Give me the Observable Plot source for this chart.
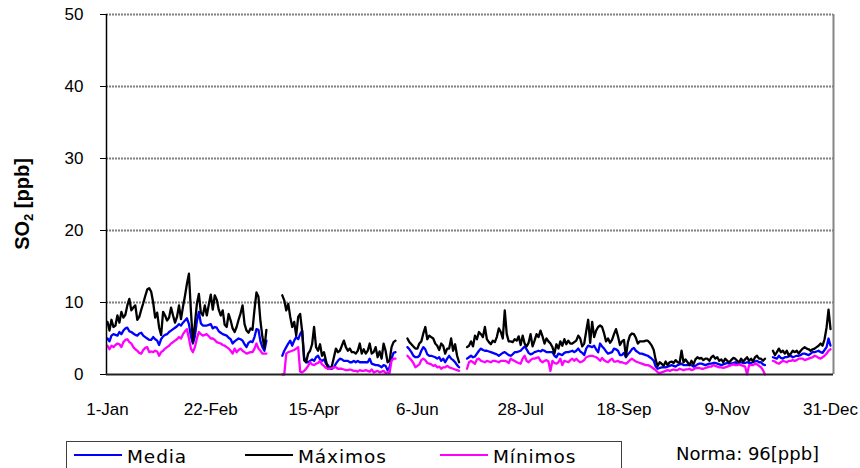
<!DOCTYPE html>
<html>
<head>
<meta charset="utf-8">
<script src="https://cdn.jsdelivr.net/npm/d3@7"></script>
<script src="https://cdn.jsdelivr.net/npm/@observablehq/plot@0.6"></script>
<style>
  html, body { margin: 0; padding: 0; background: #fff; }
  #wrap { position: relative; width: 860px; height: 468px; overflow: hidden; }
  #chart svg { display: block; }
  #legend { position: absolute; left: 0; top: 432px; }
</style>
</head>
<body>
<div id="wrap">
  <div id="chart"></div>
  <svg id="legend" width="860" height="36"></svg>
</div>
<script>
// Daily SO2 values [ppb], one entry per day from 1 January; null = no data.
const maximos = [
  7.3, 6.1, 7.6, 6.6, 6.8, 8.2, 7.2, 8.7, 7.9, 8.3,
  9.6, 10.5, 8.9, 9.3, 9.6, 7.6, 8.0, 9.0, 9.9, 10.9,
  11.8, 12.0, 11.5, 10.0, 7.9, 8.6, 6.5, 5.5, 8.7, 8.2,
  7.5, 7.9, 9.3, 8.2, 7.2, 8.0, 9.6, 7.7, 9.4, 10.9,
  12.6, 14.0, 8.8, 4.5, 7.0, 9.8, 11.2, 8.6, 8.2, 9.6,
  8.2, 9.7, 11.1, 9.0, 11.0, 10.4, 9.0, 8.2, 8.9, 6.9,
  6.6, 8.4, 7.5, 6.4, 5.9, 6.6, 7.6, 8.5, 9.6, 7.0,
  6.1, 5.8, 6.4, 6.2, 9.0, 11.4, 10.8, 7.4, 5.2, 3.7,
  6.2,
  null, null, null, null, null, null, null,
  11.0, 10.3, 8.9, 9.8, 8.0, 6.6, 7.3, 5.4, 8.0, 8.4,
  6.0, 2.0, 1.7, 2.9, 3.3, 4.2, 6.6, 3.8, 3.3, 4.2,
  2.6, 3.1, 1.9, 0.8, 0.8, 1.2, 2.4, 3.6, 3.1, 3.3,
  4.0, 4.7, 3.8, 3.3, 3.6, 3.1, 3.1, 2.9, 3.3, 4.3,
  2.9, 3.5, 2.9, 3.3, 4.3, 2.9, 3.1, 3.8, 2.4, 3.2,
  2.2, 4.3, 3.3, 1.7, 1.9, 3.8, 4.5, 4.7,
  null, null, null, null, null,
  5.0, 4.5, 4.2, 3.9, 3.6, 3.6, 4.3, 4.6, 5.7, 6.6,
  4.9, 5.4, 5.2, 5.0, 4.3, 4.0, 3.4, 4.3, 4.0, 2.9,
  3.6, 3.6, 5.0, 3.3, 4.2, 2.6, 1.7,
  null, null, null,
  3.8, 4.0, 4.6, 3.9, 5.4, 4.9, 5.9, 5.6, 5.2, 6.6,
  4.9, 4.5, 4.2, 4.7, 4.5, 5.2, 6.4, 5.9, 5.0, 8.9,
  5.6, 4.6, 4.6, 4.5, 4.9, 4.7, 5.3, 4.1, 5.4, 4.3,
  3.9, 4.4, 5.6, 3.9, 4.7, 5.6, 5.2, 6.1, 5.3, 4.3,
  5.0, 4.6, 4.3, 3.8, 2.9, 4.2, 3.6, 4.6, 4.0, 4.9,
  4.2, 4.7, 4.3, 4.3, 4.5, 4.7, 5.4, 5.0, 3.9, 4.3,
  6.0, 7.6, 4.4, 7.3, 5.2, 6.1, 6.6, 6.8, 6.6, 5.7,
  4.6, 5.0, 4.4, 4.8, 5.6, 6.3, 5.3, 4.1,
  4.6, 4.8, 2.5, 4.5, 5.4, 5.7, 5.6, 5.1, 4.3, 4.6,
  4.6, 4.6, 4.7, 4.7, 4.4, 4.0, 3.4, 2.0, 1.2, 1.7,
  1.5, 1.2, 1.8, 1.3, 1.7, 1.8, 1.6, 2.0, 1.7, 1.6,
  3.3, 1.7, 2.1, 1.7, 1.3, 1.9, 1.4, 2.1, 2.4, 2.2,
  2.3, 2.0, 2.2, 2.2, 1.9, 2.4, 2.6, 2.2, 2.4, 1.9,
  2.1, 1.7, 2.2, 1.9, 1.7, 2.0, 2.3, 2.2, 1.9, 1.7,
  2.2, 1.8, 2.1, 2.4, 1.9, 2.2, 1.8, 2.4, 2.6, 2.2,
  2.2, 1.9, 2.2,
  null, null, null,
  3.3, 2.7, 3.1, 3.6, 3.1, 3.3, 2.9, 3.3, 2.6, 2.9,
  3.3, 3.1, 3.3, 2.9, 3.3, 3.6, 3.8, 3.6, 3.5, 3.3,
  3.5, 3.6, 3.8, 4.0, 4.3, 4.0, 4.9, 6.5, 9.0, 6.3
];

const media = [
  5.0, 4.6, 5.4, 5.6, 5.5, 5.4, 5.9, 5.6, 6.1, 6.4,
  6.5, 6.0, 5.9, 5.7, 5.5, 5.4, 5.7, 5.8, 5.4, 5.2,
  5.0, 4.8, 4.8, 5.2, 4.9, 4.7, 4.1, 4.9, 5.3, 5.5,
  5.6, 5.9, 6.1, 6.3, 6.5, 6.7, 7.0, 6.8, 7.2, 7.5,
  7.8, 7.0, 5.3, 4.3, 5.3, 7.4, 8.7, 7.1, 6.8, 6.8,
  6.8, 6.9, 7.0, 6.4, 6.6, 6.5, 6.0, 5.8, 5.6, 5.5,
  5.4, 5.1, 4.9, 4.3, 4.6, 4.8, 5.0, 4.9, 4.7, 4.2,
  3.8, 4.4, 4.6, 4.5, 5.2, 6.3, 6.2, 4.6, 3.8, 3.3,
  4.7,
  null, null, null, null, null, null, null,
  2.6, 3.3, 3.8, 4.3, 4.7, 4.0, 4.7, 5.2, 4.9, 5.6,
  6.1, 2.4, 1.7, 1.7, 1.9, 2.1, 1.9, 2.4, 2.6, 2.1,
  1.9, 2.1, 1.5, 1.3, 0.8, 0.8, 1.0, 1.5, 1.9, 2.2,
  2.1, 1.9, 1.9, 1.9, 1.7, 1.7, 1.9, 1.7, 1.9, 1.7,
  1.7, 1.7, 1.7, 1.7, 2.2, 1.5, 1.4, 1.3, 1.3, 1.2,
  1.0, 1.3, 1.2, 0.6, 1.0, 2.2, 3.0, 3.1,
  null, null, null, null, null,
  3.8, 3.5, 3.1, 2.6, 2.4, 2.4, 2.6, 3.3, 3.8, 3.5,
  2.8, 2.6, 2.6, 2.5, 2.4, 2.2, 2.4, 1.9, 2.2, 1.7,
  2.2, 2.6, 2.2, 2.0, 1.7, 1.3, 1.0,
  null, null, null,
  2.2, 2.4, 2.6, 2.4, 2.5, 2.9, 3.3, 3.6, 3.4, 3.3,
  3.3, 3.2, 3.1, 3.0, 2.9, 2.8, 2.6, 2.8, 3.0, 3.1,
  2.9, 2.7, 2.6, 2.8, 3.1, 3.1, 3.2, 3.3, 3.6, 3.9,
  3.5, 3.0, 2.8, 2.9, 3.1, 3.2, 3.3, 3.2, 3.4, 3.3,
  3.1, 3.1, 3.1, 3.1, 2.6, 2.4, 2.9, 2.8, 2.7, 3.0,
  3.1, 3.1, 3.2, 3.3, 3.1, 3.3, 3.6, 3.2, 3.0, 2.7,
  3.6, 4.0, 3.9, 3.8, 4.0, 3.5, 3.1, 4.3, 3.9, 3.6,
  3.2, 2.9, 3.0, 3.1, 3.6, 3.5, 3.3, 2.7,
  2.7, 3.0, 2.4, 2.8, 3.1, 3.5, 3.7, 3.3, 3.1, 2.9,
  2.9, 2.8, 2.7, 2.6, 2.4, 2.2, 1.9, 1.1, 0.8, 0.9,
  1.0, 1.0, 1.0, 1.1, 1.2, 1.3, 1.2, 1.1, 1.3, 1.4,
  1.5, 1.3, 1.3, 1.3, 1.3, 1.3, 1.1, 1.2, 1.4, 1.5,
  1.5, 1.4, 1.3, 1.4, 1.5, 1.5, 1.6, 1.6, 1.5, 1.4,
  1.3, 1.4, 1.5, 1.6, 1.5, 1.5, 1.6, 1.7, 1.5, 1.6,
  1.7, 1.6, 1.6, 1.7, 1.6, 1.6, 1.7, 1.8, 1.9, 1.7,
  1.7, 1.4, 1.3,
  null, null, null,
  2.4, 2.3, 2.2, 2.6, 2.3, 2.2, 2.4, 2.4, 2.5, 2.6,
  2.4, 2.5, 2.6, 2.6, 2.7, 2.9, 2.9, 2.8, 2.7, 2.9,
  3.1, 3.1, 3.2, 3.3, 3.1, 3.0, 3.4, 3.8, 5.0, 4.0
];

const minimos = [
  4.0, 3.5, 4.0, 3.8, 4.1, 4.3, 4.2, 3.8, 4.5, 4.8,
  4.9, 4.5, 4.3, 3.8, 3.5, 3.3, 3.0, 2.9, 3.4, 3.7,
  3.8, 3.1, 3.2, 3.1, 3.3, 3.2, 2.6, 3.1, 3.3, 3.6,
  3.8, 4.0, 4.3, 4.5, 4.7, 4.9, 5.2, 5.0, 5.6, 6.0,
  6.3, 5.0, 3.6, 3.1, 3.8, 5.0, 5.9, 5.6, 5.4, 5.5,
  5.6, 5.3, 5.0, 5.0, 4.8, 4.5, 4.4, 4.3, 4.1, 4.0,
  3.8, 3.6, 3.3, 2.9, 3.6, 3.1, 3.4, 3.6, 3.3, 3.1,
  2.9, 3.0, 3.1, 3.1, 3.6, 4.3, 3.6, 3.3, 2.9, 2.9,
  2.9,
  null, null, null, null, null, null, null,
  0.0, 0.0, 2.9, 3.1, 3.2, 3.3, 3.4, 3.6, 3.8, 0.4,
  0.3, 0.5, 0.8, 1.2, 1.7, 1.4, 1.3, 1.5, 1.6, 1.9,
  1.4, 1.2, 0.9, 0.8, 0.8, 0.9, 1.0, 1.0, 0.8, 0.8,
  0.8, 0.7, 0.6, 0.6, 0.7, 0.6, 0.5, 0.5, 0.4, 0.6,
  0.5, 0.5, 0.6, 0.5, 0.4, 0.7, 0.3, 0.4, 0.5, 0.3,
  0.4, 0.5, 0.2, 0.3, 0.2, 1.9, 2.2, 2.2,
  null, null, null, null, null,
  2.6, 2.3, 2.0, 1.6, 1.0, 1.2, 1.4, 2.0, 2.2, 2.0,
  1.6, 1.5, 1.4, 1.2, 1.3, 1.0, 1.1, 0.8, 1.0, 1.0,
  1.2, 1.0, 0.9, 0.8, 0.7, 0.6, 0.5,
  null, null, null,
  0.8, 1.7, 1.9, 1.7, 1.5, 2.1, 2.2, 1.9, 1.8, 1.7,
  1.9, 1.8, 1.7, 1.9, 1.9, 1.8, 1.7, 1.9, 1.9, 1.9,
  1.8, 1.6, 2.2, 2.0, 1.9, 1.7, 1.6, 1.5, 2.2, 2.6,
  1.9, 1.7, 2.0, 2.2, 2.2, 2.3, 2.4, 1.9, 1.7, 1.9,
  2.0, 1.8, 0.5, 1.9, 1.6, 1.5, 1.7, 2.2, 1.3, 1.9,
  1.8, 1.7, 2.0, 2.2, 1.9, 2.2, 1.9, 1.7, 1.8, 2.0,
  2.4, 2.5, 2.6, 2.6, 2.5, 2.4, 2.2, 1.9, 2.3, 2.0,
  1.8, 1.7, 2.0, 2.2, 1.8, 1.8, 1.9, 1.7,
  1.7, 1.6, 1.5, 1.7, 2.0, 2.2, 2.0, 1.8, 1.7, 1.6,
  1.5, 1.4, 1.3, 1.3, 1.2, 1.0, 0.8, 0.6, 0.3, 0.2,
  0.3, 0.4, 0.5, 0.6, 0.5, 0.6, 0.7, 0.6, 0.6, 0.8,
  0.7, 0.6, 0.7, 0.7, 0.8, 0.6, 0.7, 0.9, 0.9, 0.9,
  0.8, 0.8, 0.9, 1.0, 1.1, 1.1, 1.3, 1.2, 1.1, 1.0,
  1.0, 0.9, 1.0, 1.1, 1.2, 1.3, 1.4, 1.3, 1.3, 1.4,
  1.3, 1.2, 1.1, 0.0, 1.3, 1.3, 1.3, 1.5, 1.4, 1.2,
  1.0, 0.6, 0.0,
  null, null, null,
  1.9, 1.8, 1.6, 1.5, 1.7, 1.9, 1.8, 1.7, 1.9, 1.9,
  2.0, 1.9, 2.0, 2.2, 2.2, 2.2, 2.0, 2.1, 2.2, 2.3,
  2.4, 2.6, 2.5, 2.3, 2.2, 2.4, 2.6, 2.9, 3.3, 3.5
];

// Series names and colours (drawing order: Media, Máximos, Mínimos)
const seriesNames = ["Media", "Máximos", "Mínimos"];
const seriesColors = ["#0000ff", "#000000", "#ff00ff"];
const seriesValues = [media, maximos, minimos];

// Axis ticks: every 52 days through the year, and the SO2 scale
const tickDays = [0, 52, 104, 156, 208, 260, 312, 364];
const yTicks = [0, 10, 20, 30, 40, 50];
const normaText = "Norma: 96[ppb]";

const DAY = 864e5;
const t0 = Date.UTC(2010, 0, 1);
const dayDate = d => new Date(t0 + d * DAY);
const xDomain = [dayDate(-0.5), dayDate(365.5)];
const fmt = d3.utcFormat("%-d-%b");

const rows = [];
seriesValues.forEach((vals, k) => {
  vals.forEach((v, i) => rows.push({ date: dayDate(i), value: v, serie: seriesNames[k] }));
});

const chart = Plot.plot({
  width: 860,
  height: 432,
  marginLeft: 106,
  marginRight: 27,
  marginTop: 14,
  marginBottom: 58,
  style: { fontFamily: "'Liberation Sans', Arial, sans-serif", fontSize: "17px", color: "#000", background: "#fff", overflow: "visible" },
  x: { type: "utc", domain: xDomain },
  y: { domain: [0, 50] },
  marks: [
    Plot.ruleY(yTicks.filter(d => d > 0), { stroke: "#808080", strokeWidth: 1.8, strokeDasharray: "2,1" }),
    Plot.ruleX([xDomain[1]], { stroke: "#858585", strokeWidth: 2 }),
    ...seriesNames.map((name, k) =>
      Plot.line(rows.filter(r => r.serie === name), {
        x: "date", y: "value", stroke: seriesColors[k], strokeWidth: 2.3
      })
    ),
    Plot.ruleX([xDomain[0]], { stroke: "#000", strokeWidth: 1.5 }),
    Plot.ruleY([0], { stroke: "#222", strokeWidth: 2 }),
    Plot.axisY({ ticks: yTicks, tickSize: 6, tickPadding: 17, label: null, fontSize: 17, stroke: "#000" }),
    Plot.axisX({ ticks: tickDays.map(dayDate), tickFormat: fmt, tickSize: 0, tickPadding: 28, label: null, fontSize: 17 })
  ]
});
document.getElementById("chart").appendChild(chart);

// Y-axis title with subscript
const yTitle = d3.select(chart).append("text")
  .attr("transform", "translate(29,204) rotate(-90)")
  .attr("text-anchor", "middle")
  .attr("font-family", "'Liberation Sans', Arial, sans-serif")
  .attr("font-weight", "bold")
  .attr("font-size", 20)
  .attr("fill", "#000");
yTitle.append("tspan").text("SO");
yTitle.append("tspan").attr("font-size", 13).attr("dy", 4).text("2");
yTitle.append("tspan").attr("dy", -4).text(" [ppb]");

// Legend below the chart
const lg = d3.select("#legend");
lg.append("rect").attr("x", 66.5).attr("y", 9.5).attr("width", 555).attr("height", 40)
  .attr("fill", "none").attr("stroke", "#404040").attr("stroke-width", 1);
const itemX = [74, 245, 440];
seriesNames.forEach((name, k) => {
  lg.append("line").attr("x1", itemX[k]).attr("x2", itemX[k] + 48).attr("y1", 23).attr("y2", 23)
    .attr("stroke", seriesColors[k]).attr("stroke-width", 2);
  lg.append("text").attr("x", itemX[k] + 53).attr("y", 31)
    .attr("font-family", "'DejaVu Sans', sans-serif").attr("font-size", 18.5).attr("fill", "#000")
    .attr("letter-spacing", 0.9).text(name);
});
lg.append("text").attr("x", 676).attr("y", 28)
  .attr("font-family", "'DejaVu Sans', sans-serif").attr("font-size", 18).attr("fill", "#000")
  .text(normaText);
</script>
</body>
</html>
